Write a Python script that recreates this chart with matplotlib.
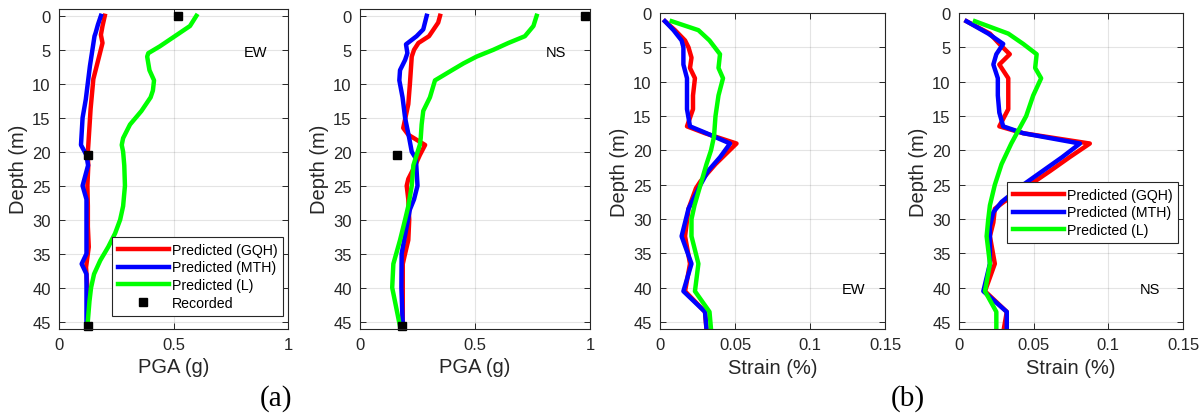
import matplotlib
matplotlib.use("Agg")
import matplotlib.pyplot as plt
import numpy as np

plt.rcParams['font.family'] = ['Liberation Sans', 'DejaVu Sans']

# ---------------- data ----------------
# Panel (a) EW – PGA (g) vs depth (m)
ew_pga_gqh_d = [0, 1.5, 2.8, 4, 6, 9.3, 13.7, 19, 20.5, 22, 25, 28, 31, 34, 37, 40, 45.7]
ew_pga_gqh_x = [0.20, 0.19, 0.183, 0.19, 0.175, 0.15, 0.138, 0.128, 0.125, 0.128, 0.124, 0.126, 0.126, 0.13, 0.118, 0.124, 0.124]
ew_pga_mth_d = [0, 1.3, 2.5, 3, 7.4, 12.3, 15, 19, 20.5, 22, 25, 27, 30, 35, 36.5, 38, 45.7]
ew_pga_mth_x = [0.183, 0.17, 0.16, 0.155, 0.135, 0.117, 0.103, 0.096, 0.12, 0.127, 0.103, 0.12, 0.12, 0.12, 0.099, 0.12, 0.12]
ew_pga_l_d = [0, 1.5, 3, 4.5, 5.5, 6, 8, 9.5, 11, 12, 14, 16, 18, 19, 20, 22, 25, 28, 30, 32, 34, 36, 38, 40, 42, 45.7]
ew_pga_l_x = [0.60, 0.572, 0.506, 0.44, 0.39, 0.385, 0.395, 0.415, 0.41, 0.40, 0.36, 0.31, 0.28, 0.274, 0.28, 0.285, 0.288, 0.28, 0.267, 0.245, 0.215, 0.18, 0.153, 0.14, 0.133, 0.124]
ew_rec_d = [0, 20.5, 45.7]
ew_rec_x = [0.52, 0.125, 0.125]

# Panel (a) NS – PGA
ns_pga_gqh_d = [0, 1, 3, 4, 5, 6, 10, 13, 16.5, 17.5, 19, 20.5, 22, 24, 25, 27, 30, 33, 35, 36.5, 40, 45.7]
ns_pga_gqh_x = [0.348, 0.34, 0.30, 0.254, 0.235, 0.225, 0.217, 0.21, 0.188, 0.21, 0.283, 0.26, 0.24, 0.21, 0.203, 0.21, 0.214, 0.21, 0.196, 0.186, 0.186, 0.186]
ns_pga_mth_d = [0, 2, 3, 4.2, 5.5, 6.5, 8, 9.5, 12, 15, 18, 20, 21, 25, 27, 28.5, 31, 35, 40, 45.7]
ns_pga_mth_x = [0.29, 0.275, 0.246, 0.20, 0.206, 0.196, 0.174, 0.171, 0.185, 0.196, 0.214, 0.225, 0.243, 0.25, 0.235, 0.217, 0.203, 0.181, 0.18, 0.186]
ns_pga_l_d = [0, 1.5, 3, 4, 5, 6, 7, 8, 9.5, 12, 14, 16, 18, 19, 20.5, 22, 25, 28, 30, 33, 36.5, 40, 42, 45.7]
ns_pga_l_x = [0.768, 0.754, 0.717, 0.645, 0.58, 0.507, 0.45, 0.40, 0.326, 0.304, 0.275, 0.268, 0.264, 0.26, 0.246, 0.232, 0.225, 0.21, 0.196, 0.174, 0.145, 0.14, 0.152, 0.174]
ns_rec_d = [0, 20.5, 45.7]
ns_rec_x = [0.978, 0.159, 0.181]

# Panel (b) EW – Strain (%)
ew_str_gqh_d = [1.2, 2.5, 4, 5, 6.5, 8, 9.5, 12, 14, 16.5, 17.5, 19, 20.5, 22, 24.5, 25.5, 28.5, 32.5, 36.5, 40.5, 43.5, 46]
ew_str_gqh_x = [0.0033, 0.010, 0.0167, 0.019, 0.021, 0.020, 0.0233, 0.022, 0.022, 0.018, 0.030, 0.051, 0.044, 0.037, 0.027, 0.024, 0.019, 0.0167, 0.020, 0.0167, 0.030, 0.031]
ew_str_mth_d = [1.2, 2.5, 4, 5, 7.5, 9.5, 12, 14, 16.5, 17.5, 19, 21, 23, 25, 28.5, 32.5, 36.5, 40.5, 43.5, 46]
ew_str_mth_x = [0.0033, 0.009, 0.0144, 0.0156, 0.0156, 0.018, 0.018, 0.018, 0.020, 0.031, 0.0467, 0.040, 0.032, 0.027, 0.019, 0.0144, 0.021, 0.0156, 0.030, 0.031]
ew_str_l_d = [1.2, 2.5, 4, 6, 8, 9.5, 12, 15, 18, 20, 22, 25, 28, 30, 32.5, 36.5, 40.5, 43.5, 46]
ew_str_l_x = [0.0078, 0.0256, 0.033, 0.040, 0.039, 0.042, 0.039, 0.037, 0.036, 0.034, 0.031, 0.027, 0.023, 0.021, 0.021, 0.0256, 0.0233, 0.033, 0.034]

# Panel (b) NS – Strain (%)
ns_str_gqh_d = [1.2, 3, 4.5, 6, 7.5, 9.5, 12, 14, 16.5, 17.5, 19, 21, 23, 25, 27.5, 28.5, 30.5, 32.5, 36.5, 40.5, 43.5, 46]
ns_str_gqh_x = [0.005, 0.0207, 0.027, 0.034, 0.027, 0.033, 0.033, 0.033, 0.027, 0.043, 0.0876, 0.074, 0.061, 0.0475, 0.030, 0.024, 0.023, 0.0207, 0.024, 0.0174, 0.032, 0.030]
ns_str_mth_d = [1.2, 3, 4.5, 6, 7.5, 9.5, 12, 14.5, 16.5, 17.5, 19, 21, 23, 25, 27.5, 29, 31, 33, 36.5, 40.5, 43.5, 46]
ns_str_mth_x = [0.005, 0.0196, 0.0296, 0.025, 0.023, 0.026, 0.026, 0.027, 0.0296, 0.043, 0.081, 0.069, 0.056, 0.043, 0.0285, 0.023, 0.0207, 0.0207, 0.0207, 0.0163, 0.032, 0.032]
ns_str_l_d = [1.2, 3, 4.5, 6, 8, 9.5, 12, 15, 17, 19, 22, 25, 28, 30, 32.5, 36.5, 40.5, 43.5, 46]
ns_str_l_x = [0.0107, 0.033, 0.043, 0.052, 0.051, 0.055, 0.0497, 0.045, 0.040, 0.035, 0.0285, 0.024, 0.0207, 0.0196, 0.0185, 0.0207, 0.0174, 0.025, 0.025]

labels = ['Predicted (GQH)', 'Predicted (MTH)', 'Predicted (L)', 'Recorded']
depth_ticks = [0, 5, 10, 15, 20, 25, 30, 35, 40, 45]
pga_ticks = [0, 0.5, 1]
pga_ticklabels = ['0', '0.5', '1']
strain_ticks = [0, 0.05, 0.1, 0.15]
strain_ticklabels = ['0', '0.05', '0.1', '0.15']

# ---------------- style ----------------
W, H = 1203, 414
fig = plt.figure(figsize=(W / 100, H / 100), dpi=100)
frame_col = (0.15, 0.15, 0.15)
tick_col = (0.15, 0.15, 0.15)
LW = 3.2

def px_axes(x0, x1, y0, y1):
    return fig.add_axes([x0 / W, 1 - y1 / H, (x1 - x0) / W, (y1 - y0) / H])

def style(ax, xticks, xticklabels, xlabel, ylim):
    ax.set_ylim(*ylim)
    ax.set_yticks(depth_ticks)
    ax.set_xticks(xticks)
    ax.set_xticklabels(xticklabels)
    ax.set_xlim(xticks[0], xticks[-1])
    ax.grid(True, color=(0.15, 0.15, 0.15), alpha=0.12, linewidth=0.8)
    ax.set_axisbelow(True)
    for s in ax.spines.values():
        s.set_color(frame_col)
        s.set_linewidth(0.8)
    ax.tick_params(direction='in', length=4, width=0.7, colors=tick_col,
                   labelsize=12, top=True, right=True, pad=6)
    for lab in ax.get_xticklabels() + ax.get_yticklabels():
        lab.set_color((0.15, 0.15, 0.15))
    ax.set_xlabel(xlabel, fontsize=14.5, color=(0.15, 0.15, 0.15), labelpad=4)
    ax.set_ylabel('Depth (m)', fontsize=14.5, color=(0.15, 0.15, 0.15), labelpad=3)

def make_legend(ax, handles, anchor):
    leg = ax.legend(handles=handles, loc='upper left', bbox_to_anchor=anchor,
                    fontsize=10.2, handlelength=3.6, handletextpad=0.2,
                    borderpad=0.42, borderaxespad=0, labelspacing=0.25,
                    fancybox=False, framealpha=1, edgecolor=(0.15, 0.15, 0.15))
    leg.get_frame().set_linewidth(0.8)
    return leg

# Panel 1
ax1 = px_axes(59, 288, 10, 329.5)
h1, = ax1.plot(ew_pga_gqh_x, ew_pga_gqh_d, color='#ff0000', lw=LW, label=labels[0])
h2, = ax1.plot(ew_pga_mth_x, ew_pga_mth_d, color='#0000ff', lw=LW, label=labels[1])
h3, = ax1.plot(ew_pga_l_x, ew_pga_l_d, color='#00ff00', lw=LW, label=labels[2])
h4, = ax1.plot(ew_rec_x, ew_rec_d, 's', color='black', ms=5.2, label=labels[3], clip_on=False)
style(ax1, pga_ticks, pga_ticklabels, 'PGA (g)', (46, -1))
ax1.text(0.856, 5.3, 'EW', fontsize=10.5, ha='center', va='center', color='black')
make_legend(ax1, [h1, h2, h3, h4], ((112 - 59) / 229, (329.5 - 238) / 319.5))

# Panel 2
ax2 = px_axes(360, 590, 10, 329.5)
ax2.plot(ns_pga_gqh_x, ns_pga_gqh_d, color='#ff0000', lw=LW)
ax2.plot(ns_pga_mth_x, ns_pga_mth_d, color='#0000ff', lw=LW)
ax2.plot(ns_pga_l_x, ns_pga_l_d, color='#00ff00', lw=LW)
ax2.plot(ns_rec_x, ns_rec_d, 's', color='black', ms=5.2, clip_on=False)
style(ax2, pga_ticks, pga_ticklabels, 'PGA (g)', (46, -1))
ax2.text(0.852, 5.3, 'NS', fontsize=10.5, ha='center', va='center', color='black')

# Panel 3
ax3 = px_axes(660, 885, 14, 330)
ax3.plot(ew_str_gqh_x, ew_str_gqh_d, color='#ff0000', lw=LW)
ax3.plot(ew_str_mth_x, ew_str_mth_d, color='#0000ff', lw=LW)
ax3.plot(ew_str_l_x, ew_str_l_d, color='#00ff00', lw=LW)
style(ax3, strain_ticks, strain_ticklabels, 'Strain (%)', (46, 0))
ax3.text(0.129, 40.2, 'EW', fontsize=10.5, ha='center', va='center', color='black')

# Panel 4
ax4 = px_axes(959, 1183, 14, 330)
g1, = ax4.plot(ns_str_gqh_x, ns_str_gqh_d, color='#ff0000', lw=LW, label=labels[0])
g2, = ax4.plot(ns_str_mth_x, ns_str_mth_d, color='#0000ff', lw=LW, label=labels[1])
g3, = ax4.plot(ns_str_l_x, ns_str_l_d, color='#00ff00', lw=LW, label=labels[2])
style(ax4, strain_ticks, strain_ticklabels, 'Strain (%)', (46, 0))
ax4.text(0.128, 40.2, 'NS', fontsize=10.5, ha='center', va='center', color='black')
make_legend(ax4, [g1, g2, g3], ((1007 - 959) / 224, (330 - 183) / 316))

# Sub-figure labels
fig.text(276 / W, 1 - 399 / H, '(a)', fontsize=21, family=['Liberation Serif'],
         ha='center', va='center')
fig.text(908 / W, 1 - 399 / H, '(b)', fontsize=21, family=['Liberation Serif'],
         ha='center', va='center')

fig.savefig('out.png', dpi=100)
